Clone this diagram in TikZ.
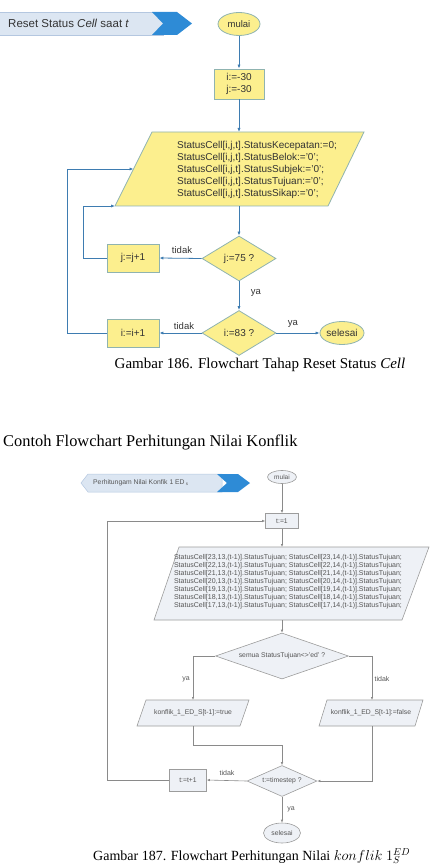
\documentclass[tikz,border=0pt]{standalone}
\usepackage{fontspec}
\setmainfont{Liberation Serif}
\setsansfont{Liberation Sans}
\usetikzlibrary{shapes.geometric,arrows.meta}
\definecolor{yfill}{HTML}{FCEF8E}
\definecolor{yborder}{HTML}{8FB3B0}
\definecolor{bline}{HTML}{3E7CB1}
\definecolor{gline}{HTML}{8A8A8A}
\definecolor{gfill}{HTML}{EEF1F6}
\definecolor{gborder}{HTML}{9C9C9C}
\definecolor{banlight}{HTML}{DCE6F2}
\definecolor{banborder}{HTML}{B4C7E0}
\definecolor{bandark}{HTML}{2E8BD6}
\definecolor{txtA}{HTML}{333333}
\definecolor{txtB}{HTML}{555555}
\tikzset{
  yshape/.style={fill=yfill,draw=yborder,line width=0.8pt,inner sep=0pt,text=txtA,font=\sffamily\fontsize{10}{12}\selectfont},
  yterm/.style={yshape,ellipse},
  ybox/.style={yshape,rectangle,align=center},
  ydec/.style={yshape,diamond},
  yarrow/.style={draw=bline,line width=0.8pt,-{Latex[length=4pt,width=3.2pt]}},
  ylbl/.style={text=txtA,font=\sffamily\fontsize{9.5}{11}\selectfont,inner sep=0pt},
  gshape/.style={fill=gfill,draw=gborder,line width=0.6pt,inner sep=0pt,text=txtB,font=\sffamily\fontsize{6.8}{8}\selectfont},
  gterm/.style={gshape,ellipse},
  gbox/.style={gshape,rectangle,align=center},
  gdec/.style={gshape,diamond},
  garrow/.style={draw=gline,line width=0.6pt,-{Latex[length=3pt,width=2.5pt]}},
  glbl/.style={text=txtB,font=\sffamily\fontsize{7}{8}\selectfont,inner sep=0pt},
}
\begin{document}
\begin{tikzpicture}[x=1pt,y=-1pt]
\useasboundingbox (0,0) rectangle (429,866);
% ===== Top flowchart =====
% banner
\fill[banlight,draw=banborder,line width=0.5pt] (-2,12) -- (163,12) -- (163,35) -- (-2,35) -- cycle;
\fill[bandark] (152,12) -- (177,12) -- (192,23.5) -- (177,35) -- (152,35) -- (163,23.5) -- cycle;
\node[anchor=west,inner sep=0pt,text=txtA,font=\sffamily\fontsize{11.5}{13}\selectfont] (ban1) at (8,23.5) {Reset Status \textit{Cell} saat \textit{t}};
% nodes
\node[yterm,minimum width=42,minimum height=23] (mul1) at (239,24) {\fontsize{9.5}{11}\selectfont mulai};
\node[ybox,minimum width=50,minimum height=30] (init) at (239,84) {i:=-30\\j:=-30};
\coordinate (p1tl) at (152,132);
\coordinate (p1tr) at (364,132);
\coordinate (p1br) at (328,206);
\coordinate (p1bl) at (115,206);
\coordinate (p1n) at (239,132);
\coordinate (p1s) at (239,206);
\coordinate (p1w) at (133.5,169);
\filldraw[fill=yfill,draw=yborder,line width=0.8pt] (p1tl) -- (p1tr) -- (p1br) -- (p1bl) -- cycle;
\node[align=left,inner sep=0pt,text=txtA,font=\sffamily\fontsize{10}{12}\selectfont] (par1) at (257,170) {StatusCell[i,j,t].StatusKecepatan:=0;\\StatusCell[i,j,t].StatusBelok:='0';\\StatusCell[i,j,t].StatusSubjek:='0';\\StatusCell[i,j,t].StatusTujuan:='0';\\StatusCell[i,j,t].StatusSikap:='0';};
\node[ydec,aspect=1.64,minimum width=74,minimum height=45] (dec1) at (239,258.5) {j:=75 ?};
\node[ybox,minimum width=52,minimum height=28] (incj) at (133,258) {j:=j+1};
\node[ydec,aspect=1.64,minimum width=74,minimum height=45] (dec2) at (239,333) {i:=83 ?};
\node[ybox,minimum width=52,minimum height=28] (inci) at (133,333) {i:=i+1};
\node[yterm,minimum width=43,minimum height=23] (end1) at (342,333) {selesai};
% connectors
\draw[yarrow] (mul1.south) -- (init.north);
\draw[yarrow] (init.south) -- (p1n);
\draw[yarrow] (p1s) -- (dec1.north);
\draw[yarrow] (dec1.west) -- (incj.east);
\draw[yarrow] (incj.west) -- (83,258) -- (83,206) -- (p1bl);
\draw[yarrow] (dec1.south) -- (dec2.north);
\draw[yarrow] (dec2.west) -- (inci.east);
\draw[yarrow] (inci.west) -- (67,333) -- (67,169) -- (p1w);
\draw[yarrow] (dec2.east) -- (end1.west);
\node[ylbl] (lt1) at (182,250) {tidak};
\node[ylbl] (ly1) at (256,293) {ya};
\node[ylbl] (lt2) at (184,326) {tidak};
\node[ylbl] (ly2) at (293,324) {ya};
% caption 1
\node[inner sep=0pt,font=\fontsize{15}{17}\selectfont] (cap1) at (260,365) {Gambar 186. Flowchart Tahap Reset Status \textit{Cell}};
\node[anchor=west,inner sep=0pt,font=\fontsize{16.4}{18}\selectfont] (head) at (3,442) {Contoh Flowchart Perhitungan Nilai Konflik};
% ===== Bottom flowchart =====
\filldraw[fill=banlight,draw=banborder,line width=0.5pt] (88,474) -- (222,474) -- (222,492) -- (88,492) -- (81,483) -- cycle;
\fill[bandark] (217,474) -- (238,474) -- (250,483) -- (238,492) -- (217,492) -- (227,483) -- cycle;
\node[anchor=west,inner sep=0pt,text=txtB,font=\sffamily\fontsize{6.8}{8}\selectfont] (ban2) at (93,483) {Perhitungam Nilai Konfik 1 ED\,{\fontsize{4.5}{5}\selectfont\raisebox{-1.2pt}{s}}};
\node[gterm,minimum width=29,minimum height=13] (mul2) at (282,477) {\fontsize{6.5}{7}\selectfont mulai};
\node[gbox,minimum width=33,minimum height=15] (t1) at (282,521) {t:=1};
\coordinate (p2tl) at (179,547);
\coordinate (p2tr) at (429,547);
\coordinate (p2br) at (402,620);
\coordinate (p2bl) at (154,620);
\coordinate (p2n) at (282,547);
\coordinate (p2s) at (282,620);
\filldraw[fill=gfill,draw=gborder,line width=0.6pt] (p2tl) -- (p2tr) -- (p2br) -- (p2bl) -- cycle;
\node[align=left,inner sep=0pt,text=txtB,font=\sffamily\fontsize{7}{8}\selectfont] (par2) at (288,582) {StatusCell[23,13,(t-1)].StatusTujuan; StatusCell[23,14,(t-1)].StatusTujuan;\\StatusCell[22,13,(t-1)].StatusTujuan; StatusCell[22,14,(t-1)].StatusTujuan;\\StatusCell[21,13,(t-1)].StatusTujuan; StatusCell[21,14,(t-1)].StatusTujuan;\\StatusCell[20,13,(t-1)].StatusTujuan; StatusCell[20,14,(t-1)].StatusTujuan;\\StatusCell[19,13,(t-1)].StatusTujuan; StatusCell[19,14,(t-1)].StatusTujuan;\\StatusCell[18,13,(t-1)].StatusTujuan; StatusCell[18,14,(t-1)].StatusTujuan;\\StatusCell[17,13,(t-1)].StatusTujuan; StatusCell[17,14,(t-1)].StatusTujuan;};
\node[gdec,aspect=2.9,minimum width=133,minimum height=46] (dec3) at (282,656) {semua StatusTujuan<>'ed' ?};
\coordinate (p3tl) at (146,700);
\coordinate (p3tr) at (249,700);
\coordinate (p3br) at (240,726);
\coordinate (p3bl) at (137,726);
\coordinate (p3n) at (193,700);
\coordinate (p3s) at (193,726);
\filldraw[fill=gfill,draw=gborder,line width=0.6pt] (p3tl) -- (p3tr) -- (p3br) -- (p3bl) -- cycle;
\node[inner sep=0pt,text=txtB,font=\sffamily\fontsize{6.8}{8}\selectfont] (par3) at (193,713) {konflik\_1\_ED\_S[t-1]:=true};
\coordinate (p4tl) at (327,700);
\coordinate (p4tr) at (423,700);
\coordinate (p4br) at (415,726);
\coordinate (p4bl) at (319,726);
\coordinate (p4n) at (372,700);
\coordinate (p4s) at (372,726);
\filldraw[fill=gfill,draw=gborder,line width=0.6pt] (p4tl) -- (p4tr) -- (p4br) -- (p4bl) -- cycle;
\node[inner sep=0pt,text=txtB,font=\sffamily\fontsize{6.8}{8}\selectfont] (par4) at (371,713) {konflik\_1\_ED\_S[t-1]:=false};
\node[gdec,aspect=2.26,minimum width=70,minimum height=31] (dec4) at (282,781) {t:=timestep ?};
\node[gbox,minimum width=37,minimum height=22] (tt1) at (188,780) {t:=t+1};
\node[gterm,minimum width=37,minimum height=20] (end2) at (282,833) {selesai};
% connectors
\draw[garrow] (mul2.south) -- (t1.north);
\draw[garrow] (t1.south) -- (p2n);
\draw[garrow] (p2s) -- (dec3.north);
\draw[garrow] (dec3.west) -- (193,656) -- (p3n);
\draw[garrow] (dec3.east) -- (372,656) -- (p4n);
\draw[garrow] (p3s) -- (193,745) -- (282,745) -- (dec4.north);
\draw[garrow] (p4s) -- (372,781) -- (dec4.east);
\draw[garrow] (dec4.west) -- (tt1.east);
\draw[garrow] (tt1.west) -- (107,780) -- (107,521) -- (t1.west);
\draw[garrow] (dec4.south) -- (end2.north);
\node[glbl] (ly3) at (186,679) {ya};
\node[glbl] (lt3) at (382,679) {tidak};
\node[glbl] (lt4) at (227,773) {tidak};
\node[glbl] (ly4) at (291,809) {ya};
% caption 2
\node[anchor=west,inner sep=0pt,font=\fontsize{14}{16}\selectfont] (cap2) at (93,856) {Gambar 187. Flowchart Perhitungan Nilai $konflik\ 1^{ED}_{S}$};
\end{tikzpicture}
\end{document}
